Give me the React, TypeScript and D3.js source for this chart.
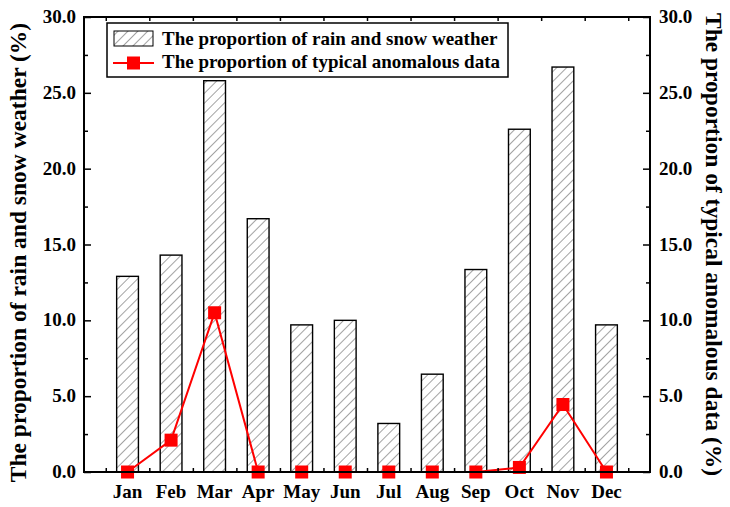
import React, { useEffect, useRef } from "react";
import * as d3 from "d3";

const months = ["Jan", "Feb", "Mar", "Apr", "May", "Jun", "Jul", "Aug", "Sep", "Oct", "Nov", "Dec"];
const rainSnow = [12.9, 14.3, 25.8, 16.7, 9.7, 10.0, 3.2, 6.45, 13.35, 22.6, 26.7, 9.7];
const anomalous = [0, 2.1, 10.5, 0, 0, 0, 0, 0, 0, 0.3, 4.45, 0];
const yTicks = [0, 5, 10, 15, 20, 25, 30];
const yMinorTicks = [2.5, 7.5, 12.5, 17.5, 22.5, 27.5];

const legendLabels = [
  "The proportion of rain and snow weather",
  "The proportion of typical anomalous data",
];

export default function App() {
  const svgRef = useRef<SVGSVGElement>(null);

  useEffect(() => {
    const width = 730;
    const height = 507;
    const left = 84;
    const right = 650;
    const top = 17;
    const bottom = 472;
    const font = "'Liberation Serif', 'Times New Roman', serif";

    const svg = d3.select(svgRef.current);
    svg.selectAll("*").remove();
    svg.attr("width", width).attr("height", height);

    const defs = svg.append("defs");
    const pat = defs
      .append("pattern")
      .attr("id", "hatch")
      .attr("patternUnits", "userSpaceOnUse")
      .attr("width", 7)
      .attr("height", 7)
      .attr("patternTransform", "rotate(45)");
    pat
      .append("line")
      .attr("x1", 0)
      .attr("y1", 0)
      .attr("x2", 0)
      .attr("y2", 7)
      .attr("stroke", "#333")
      .attr("stroke-width", 0.9);

    const x = d3.scaleLinear().domain([0, 13]).range([left, right]);
    const y = d3.scaleLinear().domain([0, 30]).range([bottom, top]);

    // bars
    const bw = x(0.5) - x(0);
    svg
      .append("g")
      .selectAll("rect")
      .data(rainSnow)
      .enter()
      .append("rect")
      .attr("x", (d, i) => x(i + 1) - bw / 2)
      .attr("y", (d) => y(d))
      .attr("width", bw)
      .attr("height", (d) => y(0) - y(d))
      .attr("fill", "url(#hatch)")
      .attr("stroke", "#000")
      .attr("stroke-width", 1.4);

    // line
    const line = d3
      .line<number>()
      .x((d, i) => x(i + 1))
      .y((d) => y(d));
    svg
      .append("path")
      .datum(anomalous)
      .attr("d", line)
      .attr("fill", "none")
      .attr("stroke", "#ff0000")
      .attr("stroke-width", 2);
    svg
      .append("g")
      .selectAll("rect")
      .data(anomalous)
      .enter()
      .append("rect")
      .attr("x", (d, i) => x(i + 1) - 6.5)
      .attr("y", (d) => y(d) - 6.5)
      .attr("width", 13)
      .attr("height", 13)
      .attr("fill", "#ff0000");

    // axes
    const xTickVals = d3.range(0.5, 13, 1);
    const axisStyle = (g: any) => {
      g.select(".domain").remove();
      g.selectAll("line").attr("stroke", "#000").attr("stroke-width", 1.5);
    };

    svg
      .append("g")
      .attr("transform", `translate(0,${bottom})`)
      .call(d3.axisTop(x).tickValues(xTickVals).tickSize(4).tickFormat(() => ""))
      .call(axisStyle);
    svg
      .append("g")
      .attr("transform", `translate(0,${top})`)
      .call(d3.axisBottom(x).tickValues(xTickVals).tickSize(4).tickFormat(() => ""))
      .call(axisStyle);

    const labels = svg
      .append("g")
      .attr("font-family", font)
      .attr("font-weight", "bold")
      .attr("font-size", 19)
      .attr("fill", "#000");

    labels
      .selectAll(".mlbl")
      .data(months)
      .enter()
      .append("text")
      .attr("x", (d, i) => x(i + 1))
      .attr("y", 498)
      .attr("text-anchor", "middle")
      .text((d) => d);

    // left y
    const yl = svg.append("g").attr("transform", `translate(${left},0)`);
    yl.call(d3.axisRight(y).tickValues(yTicks).tickSize(7).tickFormat(() => "")).call(axisStyle);
    yl.append("g")
      .call(d3.axisRight(y).tickValues(yMinorTicks).tickSize(4).tickFormat(() => ""))
      .call(axisStyle);
    labels
      .selectAll(".ylbl")
      .data(yTicks)
      .enter()
      .append("text")
      .attr("x", left - 8)
      .attr("y", (d) => y(d) + 6)
      .attr("text-anchor", "end")
      .text((d) => d3.format(".1f")(d));

    // right y
    const yr = svg.append("g").attr("transform", `translate(${right},0)`);
    yr.call(d3.axisLeft(y).tickValues(yTicks).tickSize(7).tickFormat(() => "")).call(axisStyle);
    yr.append("g")
      .call(d3.axisLeft(y).tickValues(yMinorTicks).tickSize(4).tickFormat(() => ""))
      .call(axisStyle);
    labels
      .selectAll(".rlbl")
      .data(yTicks)
      .enter()
      .append("text")
      .attr("x", right + 9)
      .attr("y", (d) => y(d) + 6)
      .attr("text-anchor", "start")
      .text((d) => d3.format(".1f")(d));

    // frame
    svg
      .append("rect")
      .attr("x", left)
      .attr("y", top)
      .attr("width", right - left)
      .attr("height", bottom - top)
      .attr("fill", "none")
      .attr("stroke", "#000")
      .attr("stroke-width", 2);

    // axis titles
    svg
      .append("text")
      .attr("transform", `translate(26,${(top + bottom) / 2 + 8}) rotate(-90)`)
      .attr("text-anchor", "middle")
      .attr("font-family", font)
      .attr("font-weight", "bold")
      .attr("font-size", 23.5)
      .text("The proportion of rain and snow weather (%)");
    svg
      .append("text")
      .attr("transform", `translate(706,${(top + bottom) / 2}) rotate(90)`)
      .attr("text-anchor", "middle")
      .attr("font-family", font)
      .attr("font-weight", "bold")
      .attr("font-size", 23.5)
      .text("The proportion of typical anomalous data (%)");

    // legend
    const lg = svg.append("g");
    lg.append("rect")
      .attr("x", 107)
      .attr("y", 23)
      .attr("width", 401)
      .attr("height", 54)
      .attr("fill", "#fff")
      .attr("stroke", "#000")
      .attr("stroke-width", 1.5);
    lg.append("rect")
      .attr("x", 114)
      .attr("y", 31)
      .attr("width", 39)
      .attr("height", 15)
      .attr("fill", "url(#hatch)")
      .attr("stroke", "#000")
      .attr("stroke-width", 1);
    lg.append("line")
      .attr("x1", 113)
      .attr("x2", 154)
      .attr("y1", 63)
      .attr("y2", 63)
      .attr("stroke", "#ff0000")
      .attr("stroke-width", 2);
    lg.append("rect")
      .attr("x", 127)
      .attr("y", 56.5)
      .attr("width", 13)
      .attr("height", 13)
      .attr("fill", "#ff0000");
    lg.selectAll(".lt")
      .data(legendLabels)
      .enter()
      .append("text")
      .attr("x", 162)
      .attr("y", (d, i) => 45 + i * 23)
      .attr("font-family", font)
      .attr("font-weight", "bold")
      .attr("font-size", 19)
      .text((d) => d);
  }, []);

  return (
    <div>
      <svg ref={svgRef} style={{ position: "absolute", left: 0, top: 0 }}></svg>
    </div>
  );
}
